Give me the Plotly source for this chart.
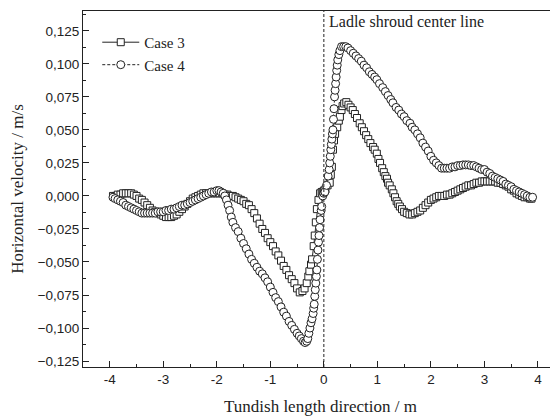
import plotly.graph_objects as go

case3_x = [-3.94, -3.9, -3.85, -3.8, -3.75, -3.7, -3.65, -3.6, -3.55, -3.5, -3.45, -3.4, -3.35, -3.3,
           -3.25, -3.2, -3.15, -3.1, -3.05, -3.0, -2.95, -2.9, -2.85, -2.8, -2.75, -2.7, -2.65, -2.6,
           -2.55, -2.5, -2.45, -2.4, -2.35, -2.3, -2.25, -2.2, -2.15, -2.1, -2.05, -2.0, -1.95, -1.9,
           -1.85, -1.8, -1.75, -1.7, -1.65, -1.6, -1.55, -1.5, -1.45, -1.4, -1.35, -1.3, -1.25, -1.2,
           -1.15, -1.1, -1.05, -1.0, -0.95, -0.9, -0.85, -0.8, -0.75, -0.7, -0.65, -0.6, -0.55, -0.5,
           -0.45, -0.4, -0.36, -0.32, -0.29, -0.27, -0.24, -0.22, -0.19, -0.17, -0.15, -0.13, -0.1,
           -0.07, -0.04, -0.02, 0.0, 0.03, 0.07, 0.11, 0.13, 0.15, 0.17, 0.19, 0.21, 0.25, 0.28, 0.3,
           0.33, 0.35, 0.38, 0.42, 0.46, 0.5, 0.54, 0.58, 0.62, 0.67, 0.71, 0.75, 0.79, 0.83, 0.87,
           0.92, 0.95, 0.99, 1.02, 1.05, 1.09, 1.12, 1.15, 1.18, 1.2, 1.23, 1.27, 1.3, 1.33, 1.36,
           1.39, 1.42, 1.46, 1.5, 1.55, 1.6, 1.65, 1.7, 1.75, 1.8, 1.85, 1.9, 1.95, 2.0, 2.05, 2.1,
           2.15, 2.2, 2.25, 2.3, 2.35, 2.4, 2.45, 2.5, 2.55, 2.6, 2.65, 2.7, 2.75, 2.8, 2.85, 2.9,
           2.95, 3.0, 3.05, 3.1, 3.15, 3.2, 3.25, 3.3, 3.35, 3.4, 3.45, 3.5, 3.55, 3.6, 3.65, 3.7,
           3.75, 3.8, 3.85, 3.88]
case3_y = [0.000, 0.000, 0.001, 0.001, 0.002, 0.002, 0.002, 0.002, 0.001, 0.000, -0.002, -0.003,
           -0.005, -0.007, -0.009, -0.011, -0.012, -0.013, -0.014, -0.015, -0.016, -0.016, -0.016,
           -0.015, -0.014, -0.012, -0.010, -0.008, -0.006, -0.004, -0.002, -0.001, 0.000, 0.001,
           0.002, 0.002, 0.002, 0.002, 0.002, 0.002, 0.002, 0.002, 0.001, 0.001, 0.000, 0.000,
           -0.001, -0.002, -0.003, -0.004, -0.006, -0.007, -0.010, -0.013, -0.017, -0.021, -0.025,
           -0.028, -0.032, -0.035, -0.038, -0.042, -0.045, -0.049, -0.053, -0.056, -0.060, -0.063,
           -0.066, -0.070, -0.073, -0.072, -0.070, -0.066, -0.061, -0.057, -0.052, -0.048, -0.038,
           -0.030, -0.020, -0.010, -0.003, 0.002, 0.003, 0.003, 0.004, 0.005, 0.008, 0.010, 0.016,
           0.022, 0.035, 0.042, 0.047, 0.052, 0.057, 0.060, 0.065, 0.068, 0.070, 0.071, 0.069, 0.067,
           0.065, 0.062, 0.059, 0.055, 0.052, 0.049, 0.046, 0.043, 0.040, 0.037, 0.035, 0.032, 0.028,
           0.025, 0.021, 0.018, 0.015, 0.013, 0.010, 0.008, 0.005, 0.002, -0.001, -0.004, -0.006,
           -0.008, -0.010, -0.012, -0.013, -0.014, -0.014, -0.013, -0.012, -0.011, -0.009, -0.007,
           -0.005, -0.003, -0.002, -0.001, 0.000, 0.000, 0.000, 0.001, 0.001, 0.002, 0.003, 0.004,
           0.005, 0.006, 0.007, 0.008, 0.008, 0.009, 0.010, 0.010, 0.011, 0.011, 0.011, 0.011, 0.011,
           0.011, 0.010, 0.010, 0.009, 0.008, 0.007, 0.005, 0.004, 0.002, 0.001, 0.000, -0.001,
           -0.001, -0.002, -0.002]

case4_x = [-3.94, -3.9, -3.85, -3.8, -3.75, -3.7, -3.65, -3.6, -3.55, -3.5, -3.45, -3.4, -3.35, -3.3,
           -3.25, -3.2, -3.15, -3.1, -3.05, -3.0, -2.95, -2.9, -2.85, -2.8, -2.75, -2.7, -2.65, -2.6,
           -2.55, -2.5, -2.45, -2.4, -2.35, -2.3, -2.25, -2.2, -2.15, -2.1, -2.05, -2.0, -1.96, -1.92,
           -1.88, -1.85, -1.82, -1.79, -1.76, -1.73, -1.7, -1.65, -1.6, -1.55, -1.5, -1.45, -1.4,
           -1.35, -1.3, -1.25, -1.2, -1.15, -1.1, -1.05, -1.0, -0.95, -0.9, -0.85, -0.8, -0.75, -0.7,
           -0.65, -0.6, -0.55, -0.5, -0.46, -0.42, -0.38, -0.35, -0.32, -0.3, -0.28, -0.26, -0.24,
           -0.22, -0.2, -0.19, -0.18, -0.17, -0.16, -0.15, -0.14, -0.13, -0.12, -0.11, -0.1, -0.09,
           -0.08, -0.07, -0.05, -0.04, -0.02, 0.0, 0.02, 0.05, 0.08, 0.1, 0.11, 0.12, 0.13, 0.14,
           0.15, 0.16, 0.17, 0.18, 0.19, 0.2, 0.21, 0.22, 0.23, 0.24, 0.25, 0.26, 0.28, 0.3, 0.33,
           0.37, 0.41, 0.45, 0.5, 0.55, 0.6, 0.65, 0.7, 0.75, 0.8, 0.85, 0.9, 0.95, 0.99, 1.04, 1.1,
           1.15, 1.2, 1.25, 1.29, 1.35, 1.4, 1.45, 1.5, 1.55, 1.61, 1.65, 1.7, 1.75, 1.8, 1.85, 1.9,
           1.95, 2.0, 2.05, 2.1, 2.15, 2.2, 2.25, 2.3, 2.35, 2.4, 2.45, 2.5, 2.55, 2.6, 2.65, 2.7,
           2.75, 2.8, 2.85, 2.9, 2.95, 3.0, 3.05, 3.1, 3.15, 3.2, 3.25, 3.3, 3.35, 3.4, 3.45, 3.5,
           3.55, 3.6, 3.65, 3.7, 3.75, 3.8, 3.85, 3.9]
case4_y = [-0.001, -0.002, -0.003, -0.004, -0.005, -0.007, -0.008, -0.009, -0.010, -0.011, -0.012,
           -0.013, -0.013, -0.013, -0.013, -0.013, -0.013, -0.012, -0.012, -0.012, -0.011, -0.011,
           -0.010, -0.010, -0.009, -0.008, -0.007, -0.007, -0.006, -0.005, -0.004, -0.003, -0.002,
           -0.001, 0.000, 0.001, 0.002, 0.003, 0.003, 0.004, 0.004, 0.003, 0.002, 0.000, -0.003,
           -0.007, -0.011, -0.016, -0.020, -0.024, -0.027, -0.032, -0.036, -0.040, -0.044, -0.048,
           -0.051, -0.054, -0.057, -0.059, -0.062, -0.065, -0.069, -0.073, -0.077, -0.080, -0.084,
           -0.088, -0.091, -0.095, -0.098, -0.101, -0.104, -0.106, -0.108, -0.110, -0.111, -0.110,
           -0.108, -0.104, -0.100, -0.096, -0.093, -0.089, -0.085, -0.082, -0.076, -0.071, -0.066,
           -0.061, -0.056, -0.048, -0.041, -0.035, -0.030, -0.024, -0.018, -0.011, -0.008, 0.000,
           0.002, 0.003, 0.008, 0.015, 0.020, 0.025, 0.030, 0.035, 0.039, 0.043, 0.047, 0.050, 0.058,
           0.066, 0.075, 0.080, 0.085, 0.090, 0.095, 0.099, 0.103, 0.107, 0.110, 0.113, 0.113, 0.113,
           0.112, 0.110, 0.108, 0.106, 0.104, 0.102, 0.099, 0.097, 0.094, 0.092, 0.090, 0.088, 0.085,
           0.082, 0.079, 0.076, 0.073, 0.0705, 0.067, 0.065, 0.062, 0.060, 0.057, 0.055, 0.052, 0.050,
           0.047, 0.044, 0.040, 0.037, 0.034, 0.030, 0.027, 0.025, 0.023, 0.021, 0.021, 0.021, 0.021,
           0.022, 0.022, 0.023, 0.023, 0.0235, 0.0235, 0.0235, 0.023, 0.023, 0.022, 0.021, 0.020,
           0.020, 0.018, 0.017, 0.015, 0.014, 0.013, 0.012, 0.011, 0.009, 0.008, 0.007, 0.005, 0.004,
           0.003, 0.002, 0.001, 0.000, -0.001, -0.001]

x_ticks = [-4, -3, -2, -1, 0, 1, 2, 3, 4]
y_ticks = [-0.125, -0.100, -0.075, -0.050, -0.025, 0.000, 0.025, 0.050, 0.075, 0.100, 0.125]

ink = "#222222"
serif = "Liberation Serif, Times New Roman, serif"
sans = "Liberation Sans, Arial, sans-serif"

fig = go.Figure()
fig.add_trace(go.Scatter(
    x=case3_x, y=case3_y, name="Case 3", mode="lines+markers",
    line=dict(color=ink, width=1),
    marker=dict(symbol="square", size=7, color="white", line=dict(color=ink, width=1)),
))
fig.add_trace(go.Scatter(
    x=case4_x, y=case4_y, name="Case 4", mode="lines+markers",
    line=dict(color=ink, width=1, dash="3px,2px"),
    marker=dict(symbol="circle", size=8, color="white", line=dict(color=ink, width=1)),
))

fig.add_shape(type="line", xref="x", yref="paper", x0=0, x1=0, y0=0, y1=1,
              line=dict(color=ink, width=1, dash="3px,2px"))
fig.add_annotation(x=0.05, y=1, xref="x", yref="paper", xanchor="left", yanchor="top",
                   yshift=0, text="Ladle shroud center line", showarrow=False,
                   font=dict(family=serif, size=16, color=ink))

fig.update_layout(
    width=558, height=417,
    margin=dict(l=75, r=8, t=3, b=58),
    paper_bgcolor="white", plot_bgcolor="white",
    separators=",.",
    showlegend=True,
    legend=dict(x=0.03, y=0.958, xanchor="left", yanchor="top", bgcolor="rgba(0,0,0,0)",
                font=dict(family=serif, size=15, color=ink), tracegroupgap=0,
                itemsizing="trace", itemwidth=37),
    xaxis=dict(
        range=[-4.5, 4.375], tickvals=x_ticks, ticktext=[str(v) for v in x_ticks],
        ticks="inside", ticklen=6, tickcolor=ink, showline=True, linecolor=ink, linewidth=1,
        mirror=True, showgrid=False, zeroline=False, automargin=False,
        minor=dict(dtick=0.5, tick0=0, ticks="inside", ticklen=3, tickcolor=ink),
        tickfont=dict(family=sans, size=13.5, color=ink),
        title=dict(text="Tundish length direction / m", font=dict(family=serif, size=17, color=ink),
                   standoff=13),
    ),
    yaxis=dict(
        range=[-0.1295, 0.140], tickvals=y_ticks, tickformat=".3f",
        ticks="inside", ticklen=6, tickcolor=ink, showline=True, linecolor=ink, linewidth=1,
        showgrid=False, zeroline=False, automargin=False,
        minor=dict(dtick=0.0125, tick0=0, ticks="inside", ticklen=3, tickcolor=ink),
        tickfont=dict(family=sans, size=13.5, color=ink),
        title=dict(text="Horizontal velocity / m/s", font=dict(family=serif, size=17, color=ink),
                   standoff=9),
    ),
)

fig.write_html("out.html")
